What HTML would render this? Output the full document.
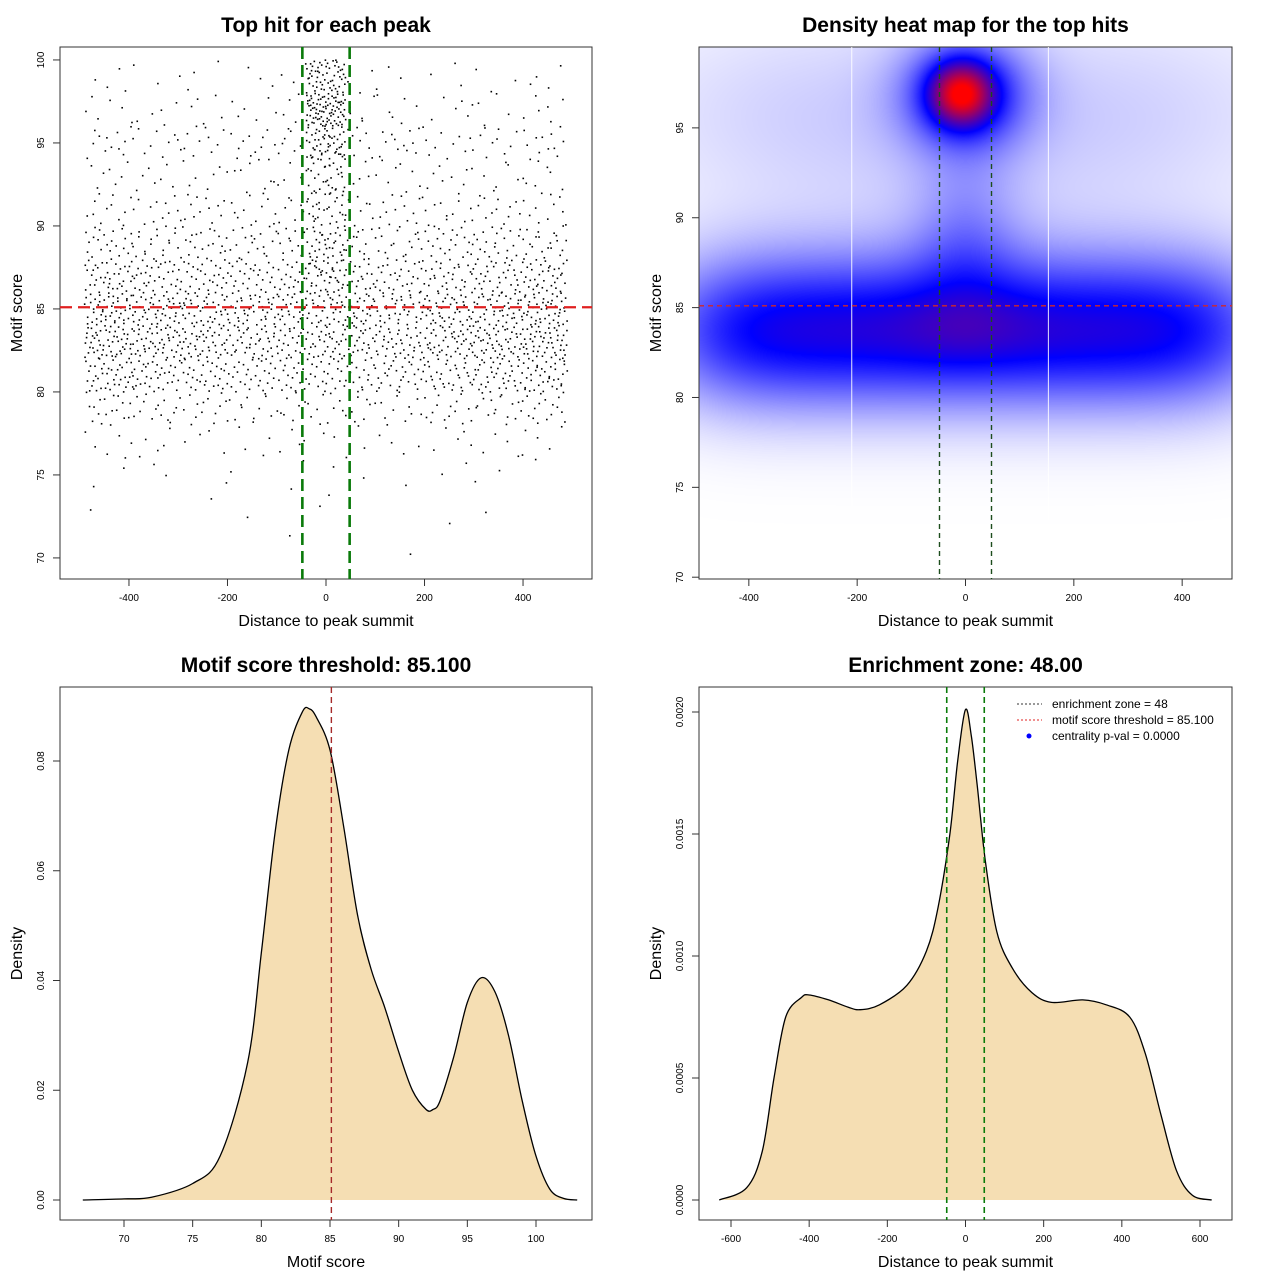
<!DOCTYPE html>
<html><head><meta charset="utf-8">
<style>
body{margin:0;background:#fff;width:1280px;height:1280px;overflow:hidden;font-family:"Liberation Sans",sans-serif}
#wrap{position:relative;width:1280px;height:1280px}
canvas{position:absolute}
svg{position:absolute;left:0;top:0}
</style></head><body>
<div id="wrap">
<canvas id="heat" width="533" height="532" style="left:699px;top:47px"></canvas>
<svg id="s" width="1280" height="1280" xmlns="http://www.w3.org/2000/svg"></svg>
</div>
<script>
// ---------- data ----------
const scatterXBins=[-490,-392,-294,-196,-98,0,98,196,294,392];
const scatterYBins=[70,72,74,76,78,80,82,84,86,88,90,92,94,96,98];
const scatterCounts=[
[0,0,0,0,1,0,1,0,0,0],
[1,0,1,1,1,1,0,1,1,0],
[2,2,1,1,2,2,1,2,2,1],
[6,5,4,4,5,4,4,4,5,5],
[18,15,14,12,12,12,12,14,16,18],
[40,35,32,28,28,28,28,32,36,40],
[55,48,45,40,40,40,40,45,50,55],
[50,45,42,38,42,42,38,42,46,50],
[38,33,30,28,32,32,28,30,34,38],
[22,20,20,18,20,20,18,20,22,22],
[12,12,12,12,12,12,12,12,12,12],
[7,7,7,8,8,8,8,7,7,7],
[12,10,10,12,14,14,12,10,10,12],
[6,5,5,6,8,8,6,5,5,6],
[4,3,3,3,4,4,3,3,3,4]];
const clusterXBins=[-40,0];
const clusterYBins=[86,88,90,92,94,96,98];
const clusterCounts=[[8,8],[10,10],[10,10],[12,12],[22,22],[40,40],[28,28]];
const threshold=85.1, zone=48;
// heat map Gaussian components
const heatCX=[-450,-300,-150,0,150,300,450, -300,300,0, 0, 0,-8];
const heatCY=[83.7,83.7,83.7,83.7,83.7,83.7,83.7, 96,96,93, 83.7, 89,96.9];
const heatSX=[110,110,110,110,110,110,110, 250,250,300, 100, 70,40];
const heatSY=[3.0,3.0,3.0,3.0,3.0,3.0,3.0, 4,4,5, 1.6, 3,1.2];
const heatW=[0.3,0.3,0.3,0.3,0.3,0.3,0.3, 0.07,0.07,0.04, 0.04, 0.15,0.5];
const haloCX=0, haloCY=96.9, haloSX=80, haloSY=2.2, haloW=0.45;
const scoreX=[67,70,72,75,77,79,80,81,82,83,83.5,84,85,86,87,88,89,90,91,92,92.5,93,94,95,96,97,98,99,100,101,102,103];
const scoreD=[0,0.0002,0.0005,0.003,0.008,0.025,0.045,0.067,0.082,0.089,0.0895,0.088,0.082,0.068,0.052,0.042,0.035,0.027,0.020,0.0165,0.0165,0.018,0.026,0.036,0.0405,0.038,0.030,0.018,0.008,0.002,0.0003,0];
const distX=[-630,-560,-520,-490,-460,-420,-400,-350,-300,-270,-220,-150,-100,-70,-40,-20,0,15,30,50,80,120,170,220,300,360,420,460,500,540,580,630];
const distD=[0,0.00005,0.0002,0.0005,0.00075,0.00083,0.00084,0.00082,0.00079,0.00078,0.0008,0.00088,0.00102,0.0012,0.0015,0.0018,0.00201,0.0019,0.0017,0.0014,0.0011,0.00095,0.00085,0.00081,0.00082,0.0008,0.00075,0.0006,0.00035,0.00012,0.00002,0];
const p1XTicks=[-400,-200,0,200,400], p1YTicks=[70,75,80,85,90,95,100];
const p2XTicks=[-400,-200,0,200,400], p2YTicks=[70,75,80,85,90,95];
const p3XTicks=[70,75,80,85,90,95,100], p3YTicks=[0,0.02,0.04,0.06,0.08];
const p4XTicks=[-600,-400,-200,0,200,400,600], p4YTicks=[0,0.0005,0.001,0.0015,0.002];
const legendLabels=["enrichment zone = 48","motif score threshold = 85.100","centrality p-val = 0.0000"];

// ---------- helpers ----------
const S=document.getElementById('s');const NS='http://www.w3.org/2000/svg';
function el(t,a,p){const e=document.createElementNS(NS,t);for(const k in a)e.setAttribute(k,a[k]);(p||S).appendChild(e);return e;}
function lin(d0,d1,r0,r1){return v=>r0+(v-d0)/(d1-d0)*(r1-r0);}
function panel(o){
  const g=el('g',{});
  const t=el('text',{x:(o.x0+o.x1)/2,y:o.y0-15,'text-anchor':'middle','font-size':21,'font-weight':'bold'},g);
  t.textContent=o.title;
  const b=el('rect',{x:o.x0,y:o.y0,width:o.x1-o.x0,height:o.y1-o.y0,fill:'none',stroke:'#333','stroke-width':1},g);
  
  const xa=el('g',{},g);
  o.xt.forEach(v=>{const x=o.sx(v);el('line',{x1:x,x2:x,y1:o.y1,y2:o.y1+7,stroke:'#333'},xa);
    const l=el('text',{x:x,y:o.y1+22,'text-anchor':'middle','font-size':10},xa);l.textContent=o.xf(v);});
  el('line',{x1:o.sx(o.xt[0]),x2:o.sx(o.xt[o.xt.length-1]),y1:o.y1,y2:o.y1,stroke:'#333'},xa);
  const ya=el('g',{},g);
  o.yt.forEach(v=>{const y=o.sy(v);el('line',{x1:o.x0,x2:o.x0-7,y1:y,y2:y,stroke:'#333'},ya);
    const l=el('text',{x:o.x0-16,y:y,'text-anchor':'middle','font-size':10,transform:`rotate(-90 ${o.x0-16} ${y})`},ya);l.textContent=o.yf(v);});
  el('line',{x1:o.x0,x2:o.x0,y1:o.sy(o.yt[0]),y2:o.sy(o.yt[o.yt.length-1]),stroke:'#333'},ya);
  const xl=el('text',{x:(o.x0+o.x1)/2,y:o.y1+47,'text-anchor':'middle','font-size':16},g);xl.textContent=o.xlab;
  
  const yx=o.x0-38,yy=(o.y0+o.y1)/2;
  const yl=el('text',{x:yx,y:yy,'text-anchor':'middle','font-size':16,transform:`rotate(-90 ${yx} ${yy})`},g);yl.textContent=o.ylab;
  
  return g;
}
const fmt=n=>v=>v.toFixed(n);

// ---------- Panel 1 ----------
(function(){
 const sx=lin(-540,540,60,592), sy=lin(68.73,100.78,579,47);
 const pts=el('g',{});
 function halton(i,b){let f=1,r=0;while(i>0){f/=b;r+=f*(i%b);i=Math.floor(i/b);}return r;}
 let k=1;
 function fill(xb,yb,counts,w,h){
  counts.forEach((row,ri)=>row.forEach((c,ci)=>{for(let j=0;j<c;j++){k++;
   const xv=xb[ci]+halton(k,2)*w, yv=yb[ri]+halton(k,3)*h;
   el('rect',{x:sx(xv)-0.8,y:sy(yv)-0.8,width:1.6,height:1.6,fill:'#000'},pts);}}));
 }
 fill(scatterXBins,scatterYBins,scatterCounts,98,2);
 fill(clusterXBins,clusterYBins,clusterCounts,40,2);
 panel({name:'top-hit-scatter-panel',x0:60,x1:592,y0:47,y1:579,sx,sy,xt:p1XTicks,yt:p1YTicks,xf:v=>v,yf:v=>v,title:'Top hit for each peak',xlab:'Distance to peak summit',ylab:'Motif score'});
 const h=el('line',{x1:60,x2:592,y1:sy(threshold),y2:sy(threshold),stroke:'#e02020','stroke-width':2.2,'stroke-dasharray':'12 6'});
 
 [-zone,zone].forEach(v=>{const l=el('line',{x1:sx(v),x2:sx(v),y1:47,y2:579,stroke:'#0a7a0a','stroke-width':2.6,'stroke-dasharray':'12 6'});
  });
})();

// ---------- Panel 2 ----------
(function(){
 const sx=lin(-492,492,699,1232), sy=lin(69.9,99.5,579,47);
 const cv=document.getElementById('heat'),ctx=cv.getContext('2d'),W=533,H=532;
 const img=ctx.createImageData(W,H);
 for(let py=0;py<H;py++){const yv=99.5-(py+0.5)/H*(99.5-69.9);
  for(let px=0;px<W;px++){const xv=-492+(px+0.5)/W*984;let d=0;
   for(let i=0;i<heatCX.length;i++){const dx=(xv-heatCX[i])/heatSX[i],dy=(yv-heatCY[i])/heatSY[i];d+=heatW[i]*Math.exp(-0.5*(dx*dx+dy*dy));}
   {const dx=(xv-haloCX)/haloSX,dy=(yv-haloCY)/haloSY;d+=haloW*Math.exp(-0.5*(dx*dx+dy*dy));}
   d=Math.min(1,d);let r,g,b;
   if(d<0.5){const t=d/0.5;r=255*(1-t);g=255*(1-t);b=255;}else{const t=(d-0.5)/0.5;r=255*t;g=0;b=255*(1-t);}
   const o=(py*W+px)*4;img.data[o]=r;img.data[o+1]=g;img.data[o+2]=b;img.data[o+3]=255;}}
 ctx.putImageData(img,0,0);
 panel({name:'density-heatmap-panel',x0:699,x1:1232,y0:47,y1:579,sx,sy,xt:p2XTicks,yt:p2YTicks,xf:v=>v,yf:v=>v,title:'Density heat map for the top hits',xlab:'Distance to peak summit',ylab:'Motif score'});
 [-210,153].forEach(v=>el('line',{x1:sx(v),x2:sx(v),y1:47,y2:520,stroke:'#fff','stroke-width':1,opacity:0.9}));
 const h=el('line',{x1:699,x2:1232,y1:sy(threshold),y2:sy(threshold),stroke:'#d02828','stroke-width':1.4,'stroke-dasharray':'5 4'});
 
 [-zone,zone].forEach(v=>{const l=el('line',{x1:sx(v),x2:sx(v),y1:47,y2:579,stroke:'#1d4d1d','stroke-width':1.4,'stroke-dasharray':'5 4'});
  });
})();

// ---------- density panel helper (smooth Catmull-Rom curve) ----------
function smoothPath(P){
 let d=`M${P[0][0]},${P[0][1]}`;
 for(let i=0;i<P.length-1;i++){const p0=P[Math.max(0,i-1)],p1=P[i],p2=P[i+1],p3=P[Math.min(P.length-1,i+2)];
  const c1=[p1[0]+(p2[0]-p0[0])/6,p1[1]+(p2[1]-p0[1])/6],c2=[p2[0]-(p3[0]-p1[0])/6,p2[1]-(p3[1]-p1[1])/6];
  d+=` C${c1[0].toFixed(1)},${c1[1].toFixed(1)} ${c2[0].toFixed(1)},${c2[1].toFixed(1)} ${p2[0].toFixed(1)},${p2[1].toFixed(1)}`;}
 return d;
}
function densityPanel(o){
 const P=o.xs.map((x,i)=>[o.sx(x),o.sy(o.ds[i])]);
 const path=smoothPath(P);
 const area=el('path',{d:path+` L${P[P.length-1][0]},${o.sy(0)} L${P[0][0]},${o.sy(0)} Z`,fill:'#f5deb3',stroke:'none'});
 
 const ln=el('path',{d:path,fill:'none',stroke:'#000','stroke-width':1.3});
 
 panel(o);
}
// ---------- Panel 3 ----------
(function(){
 const sx=lin(70,100,124,536), sy=lin(0,0.08,1200,761);
 densityPanel({name:'motif-score-density-panel',xs:scoreX,ds:scoreD,x0:60,x1:592,y0:687,y1:1220,sx,sy,xt:p3XTicks,yt:p3YTicks,xf:v=>v,yf:fmt(2),title:'Motif score threshold: 85.100',xlab:'Motif score',ylab:'Density'});
 const l=el('line',{x1:sx(threshold),x2:sx(threshold),y1:687,y2:1220,stroke:'#a52a2a','stroke-width':1.4,'stroke-dasharray':'6 4'});
 
})();
// ---------- Panel 4 ----------
(function(){
 const sx=lin(-600,600,731,1200), sy=lin(0,0.002,1200,712);
 densityPanel({name:'enrichment-density-panel',xs:distX,ds:distD,x0:699,x1:1232,y0:687,y1:1220,sx,sy,xt:p4XTicks,yt:p4YTicks,xf:v=>v,yf:fmt(4),title:'Enrichment zone: 48.00',xlab:'Distance to peak summit',ylab:'Density'});
 [-zone,zone].forEach(v=>{const l=el('line',{x1:sx(v),x2:sx(v),y1:687,y2:1220,stroke:'#0a7a0a','stroke-width':1.6,'stroke-dasharray':'6 4'});
  });
 const lg=el('g',{});
 const cols=['#333','#e02020','#0000ff'];
 legendLabels.forEach((t,i)=>{const y=704+i*16;
  const e=el('g',{},lg);
  if(i<2)el('line',{x1:1017,x2:1042,y1:y,y2:y,stroke:cols[i],'stroke-width':1,'stroke-dasharray':'2 2'},e);
  else el('circle',{cx:1029,cy:y,r:2.5,fill:cols[i]},e);
  const tx=el('text',{x:1052,y:y+4,'font-size':12},e);tx.textContent=t;});
})();
</script>
</body></html>
